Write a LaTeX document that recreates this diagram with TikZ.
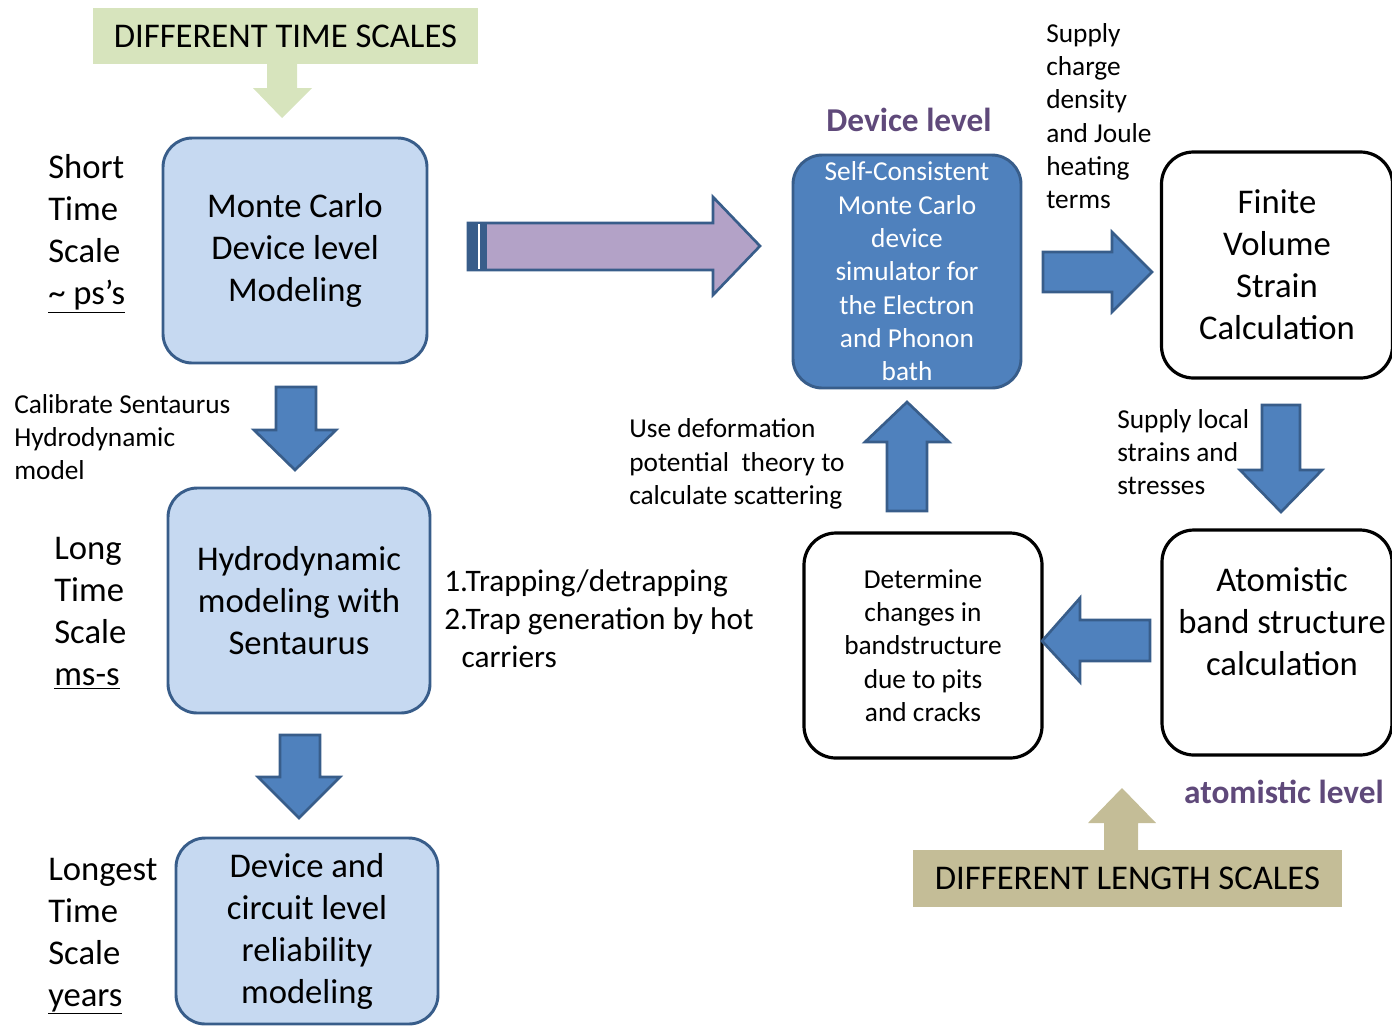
\documentclass[tikz,border=0pt]{standalone}
\usepackage{fontspec}
\setmainfont{Carlito}
\usetikzlibrary{positioning}

\definecolor{boxblue}{HTML}{C6D9F1}
\definecolor{edgeblue}{HTML}{385D8A}
\definecolor{arrblue}{HTML}{4F81BD}
\definecolor{arrpurple}{HTML}{B3A2C7}
\definecolor{titlegreen}{HTML}{D7E4BD}
\definecolor{titletan}{HTML}{C4BD97}
\definecolor{levelpurple}{HTML}{5F497A}

\begin{document}
\begin{tikzpicture}[
  x=0.75pt, y=-0.75pt,
  bigtxt/.style={font=\fontsize{26}{31.5}\selectfont},
  midtxt/.style={font=\fontsize{20.5}{25}\selectfont},
  lbox/.style={draw=edgeblue, fill=boxblue, line width=2.2pt, rounded corners=22pt,
    align=center, inner sep=0pt, bigtxt},
  dbox/.style={draw=edgeblue, fill=arrblue, line width=2.2pt, rounded corners=22pt,
    align=center, inner sep=0pt, midtxt, text=white},
  wbox/.style={draw, fill=white, line width=2.4pt, rounded corners=24pt,
    align=center, inner sep=0pt},
  tbox/.style={inner sep=0pt, align=center, bigtxt},
  side/.style={align=left, anchor=west, inner sep=0pt},
  level/.style={font=\fontsize{25}{30}\selectfont\bfseries, text=levelpurple},
  barr/.style={fill=arrblue, draw=edgeblue, line width=2pt, line join=miter}
]
\useasboundingbox (0,0) rectangle (1392,1026);

% time scales (left column)
\node[tbox, fill=titlegreen, minimum width=288.75pt, minimum height=42pt] (tscale) at (285.5,36) {DIFFERENT TIME SCALES};
\fill[titlegreen] (267,63) -- (297,63) -- (297,88) -- (312,88) -- (282,118) -- (253,88) -- (267,88) -- cycle;

\node[lbox, minimum width=198pt, minimum height=168.75pt] (mc) at (295,250.5) {Monte Carlo\\Device level\\Modeling};
\node[lbox, minimum width=196.5pt, minimum height=168.75pt] (hydro) at (299,600.5) {Hydrodynamic\\modeling with\\Sentaurus};
\node[lbox, minimum width=196.5pt, minimum height=139.5pt] (rel) at (307,931) {Device and\\circuit level\\reliability\\modeling};

\node[side, bigtxt] (short) at (48,234) {Short\\Time\\Scale\\\underline{\textasciitilde{} ps’s}};
\node[side, bigtxt] (long) at (54,613) {Long\\Time\\Scale\\\underline{ms-s}};
\node[side, bigtxt] (longest) at (48,936) {Longest\\Time\\Scale\\\underline{years}};

\node[side, midtxt] (calib) at (14,437) {Calibrate Sentaurus\\Hydrodynamic\\model};
\node[side, font=\fontsize{23.5}{28.5}\selectfont] (trap) at (444,619) {1.Trapping/detrapping\\2.Trap generation by hot\\\hspace*{0.55em}carriers};

\draw[barr] (276,387) -- (316,387) -- (316,430) -- (336,430) -- (295,470) -- (254,430) -- (276,430) -- cycle;
\draw[barr] (280,735) -- (320,735) -- (320,777) -- (340,777) -- (299,818) -- (258,777) -- (280,777) -- cycle;

% hand-over to the device level
\draw[fill=arrpurple, draw=edgeblue, line width=2pt] (468,223) -- (713,223) -- (713,197) -- (760,246) -- (713,295) -- (713,270) -- (468,270) -- cycle;
\fill[edgeblue] (468,222) rectangle (487,271);
\draw[white, line width=0.8pt] (479,224) -- (479,269);

% length scales (right part)
\node[level] (devlevel) at (909,120) {Device level};
\node[dbox, minimum width=171pt, minimum height=174.75pt] (scmc) at (907,271.5) {Self-Consistent\\Monte Carlo\\device\\simulator for\\the Electron\\and Phonon\\bath};
\node[wbox, bigtxt, minimum width=173.25pt, minimum height=169.5pt] (fv) at (1277,265) {Finite\\Volume\\Strain\\Calculation};
\node[wbox, minimum width=172.5pt, minimum height=168.75pt] (atom) at (1277,642.5) {};
\node[tbox] (atomtxt) at (1282,622) {Atomistic\\band structure\\calculation};
\node[wbox, midtxt, minimum width=178.5pt, minimum height=168.75pt] (det) at (923,645.5) {Determine\\changes in\\bandstructure\\due to pits\\and cracks};

\node[side, midtxt] (supply) at (1046,116) {Supply\\charge\\density\\and Joule\\heating\\terms};
\node[side, midtxt] (deform) at (629,464) {Use deformation\\potential\ \ theory to\\calculate scattering};
\node[side, midtxt] (strain) at (1117,452) {Supply local\\strains and\\stresses};

\draw[barr] (1043,252) -- (1112,252) -- (1112,232) -- (1152,272) -- (1112,312) -- (1112,292) -- (1043,292) -- cycle;
\draw[barr] (1262,405) -- (1300,405) -- (1300,470) -- (1322,470) -- (1281,512) -- (1240,470) -- (1262,470) -- cycle;
\draw[barr] (1150,620) -- (1080,620) -- (1080,598) -- (1042,641) -- (1080,682) -- (1080,661) -- (1150,661) -- cycle;
\draw[barr] (887,511) -- (887,442) -- (865,442) -- (907,402) -- (949,442) -- (927,442) -- (927,511) -- cycle;

\node[level] (atomlevel) at (1284,792) {atomistic level};
\fill[titletan] (1104,851) -- (1104,823) -- (1088,823) -- (1122,788) -- (1156,823) -- (1138,823) -- (1138,851) -- cycle;
\node[tbox, fill=titletan, minimum width=321.75pt, minimum height=42.75pt] (lscale) at (1127.5,878.5) {DIFFERENT LENGTH SCALES};
\end{tikzpicture}
\end{document}
